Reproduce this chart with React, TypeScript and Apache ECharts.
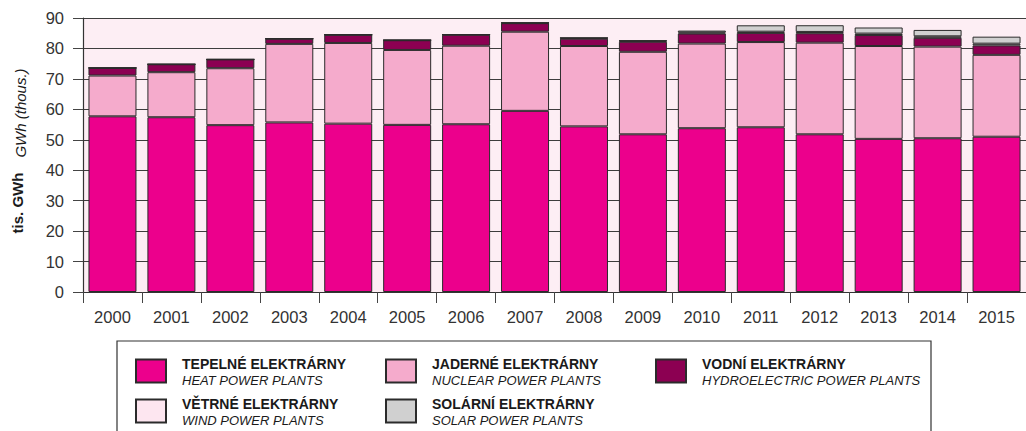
import React, { useEffect, useRef } from "react";
import * as echarts from "echarts";

const years = ["2000", "2001", "2002", "2003", "2004", "2005", "2006", "2007", "2008", "2009", "2010", "2011", "2012", "2013", "2014", "2015"];
const heat = [57.7, 57.4, 54.8, 55.7, 55.3, 54.9, 55.1, 59.5, 54.4, 51.8, 53.8, 54.1, 51.8, 50.3, 50.5, 51.0];
const nuclear = [13.4, 14.8, 18.7, 25.8, 26.5, 24.6, 25.8, 26.0, 26.4, 27.1, 27.8, 28.0, 30.1, 30.5, 30.1, 26.9];
const hydro = [2.5, 2.6, 2.9, 1.7, 2.7, 3.2, 3.6, 2.8, 2.4, 3.3, 3.3, 3.0, 3.1, 3.6, 2.9, 3.1];
const wind = [0, 0, 0, 0, 0, 0.02, 0.05, 0.1, 0.25, 0.29, 0.34, 0.4, 0.42, 0.48, 0.48, 0.57];
const solar = [0, 0, 0, 0, 0, 0, 0, 0, 0.01, 0.09, 0.62, 2.1, 2.2, 2.0, 2.1, 2.3];

const seriesNames = ["heat", "nuclear", "hydro", "wind", "solar"];
const seriesData = [heat, nuclear, hydro, wind, solar];
const seriesColors = ["#ec008c", "#f5abcc", "#8c0052", "#fde6f0", "#d0d0d0"];
const legendCz = ["TEPELNÉ ELEKTRÁRNY", "JADERNÉ ELEKTRÁRNY", "VODNÍ ELEKTRÁRNY", "VĚTRNÉ ELEKTRÁRNY", "SOLÁRNÍ ELEKTRÁRNY"];
const legendEn = ["HEAT POWER PLANTS", "NUCLEAR POWER PLANTS", "HYDROELECTRIC POWER PLANTS", "WIND POWER PLANTS", "SOLAR POWER PLANTS"];
const legendPos = [
  [135, 357],
  [385, 357],
  [655, 357],
  [135, 397],
  [385, 397],
];

export default function App() {
  const ref = useRef<HTMLDivElement>(null);
  useEffect(() => {
    if (!ref.current) return;
    const chart = echarts.init(ref.current, undefined, { renderer: "svg" });
    const font = "'Liberation Sans', Arial, Helvetica, sans-serif";
    const option: any = {
      animation: false,
      backgroundColor: "#ffffff",
      grid: {
        left: 83,
        top: 18,
        width: 947,
        height: 274,
        show: true,
        backgroundColor: "#fdeef4",
        borderWidth: 0,
      },
      xAxis: {
        type: "category",
        data: years,
        axisLine: { show: true, lineStyle: { color: "#333", width: 1.2 } },
        axisTick: { show: true, length: 11, lineStyle: { color: "#444", width: 1 } },
        axisLabel: { color: "#333", fontSize: 16.5, fontFamily: font, margin: 16 },
        splitLine: { show: false },
      },
      yAxis: {
        type: "value",
        min: 0,
        max: 90,
        interval: 10,
        axisLine: { show: true, lineStyle: { color: "#333", width: 1.2 } },
        axisTick: { show: true, length: 10, lineStyle: { color: "#444", width: 1 } },
        axisLabel: { color: "#333", fontSize: 16.5, fontFamily: font, margin: 19 },
        splitLine: { show: true, lineStyle: { color: "#3d3d3d", width: 1 } },
      },
      legend: seriesNames.map((n, i) => ({
        data: [n],
        left: legendPos[i][0],
        top: legendPos[i][1],
        padding: 0,
        itemWidth: 30,
        itemHeight: 23,
        icon: "rect",
        selectedMode: false,
        formatter: () => `{b|${legendCz[i]}}\n{i|${legendEn[i]}}`,
        textStyle: {
          padding: [2, 0, 0, 11],
          rich: {
            b: { fontFamily: font, fontSize: 14, fontWeight: "bold", color: "#1a1a1a", lineHeight: 16 },
            i: { fontFamily: font, fontSize: 13, fontStyle: "italic", color: "#1a1a1a", lineHeight: 16 },
          },
        },
      })),
      series: seriesNames.map((n, i) => ({
        name: n,
        type: "bar",
        stack: "total",
        barWidth: 48,
        data: seriesData[i],
        itemStyle: { color: seriesColors[i], borderColor: "#2b2b2b", borderWidth: 1 },
        emphasis: { disabled: true },
      })),
      graphic: [
        {
          type: "text",
          x: 17,
          y: 203,
          rotation: Math.PI / 2,
          style: {
            text: "tis. GWh",
            fontFamily: font,
            fontSize: 15,
            fontWeight: "bold",
            fill: "#1a1a1a",
            textAlign: "center",
            textVerticalAlign: "middle",
          },
        },
        {
          type: "text",
          x: 20,
          y: 113,
          rotation: Math.PI / 2,
          style: {
            text: "GWh (thous.)",
            fontFamily: font,
            fontSize: 15,
            fontStyle: "italic",
            fill: "#1a1a1a",
            textAlign: "center",
            textVerticalAlign: "middle",
          },
        },
        {
          type: "rect",
          shape: { x: 117, y: 341, width: 814, height: 110 },
          style: { fill: "none", stroke: "#333", lineWidth: 1.2 },
          z: -1,
        },
      ],
    };
    chart.setOption(option);
    return () => chart.dispose();
  }, []);
  return (
    <div
      ref={ref}
      style={{ position: "fixed", left: 0, top: 0, width: 1026, height: 431 }}
    />
  );
}
